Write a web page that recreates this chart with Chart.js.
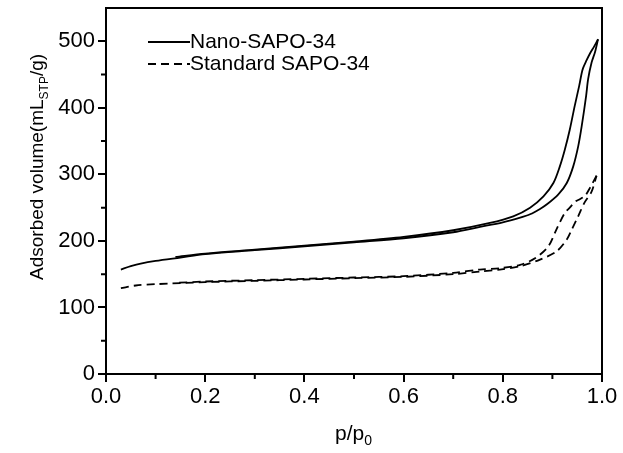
<!DOCTYPE html>
<html>
<head>
<meta charset="utf-8">
<script src="https://cdn.jsdelivr.net/npm/chart.js@4"></script>
<style>
  html, body { margin: 0; padding: 0; background: #fff; }
  #wrap { width: 623px; height: 453px; }
</style>
</head>
<body>
<div id="wrap"><canvas id="grafico"></canvas></div>
<script>
const nanoAdsX = [0.03, 0.05, 0.07, 0.1, 0.15, 0.2, 0.3, 0.4, 0.5, 0.6, 0.7, 0.754, 0.8, 0.835, 0.855, 0.875, 0.889, 0.912, 0.929, 0.942, 0.952, 0.959, 0.968, 0.972, 0.979, 0.986, 0.992];
const nanoAdsY = [157, 162, 166, 170, 175, 180, 186, 192, 198, 204, 213, 221, 228, 235, 240, 248, 255, 270, 287, 312, 342, 372, 418, 443, 468, 484, 503];
const nanoDesX = [0.992, 0.984, 0.976, 0.968, 0.962, 0.959, 0.954, 0.945, 0.935, 0.925, 0.915, 0.902, 0.882, 0.855, 0.821, 0.774, 0.7, 0.6, 0.5, 0.4, 0.3, 0.2, 0.14];
const nanoDesY = [503, 492, 482, 470, 460, 452, 433, 403, 367, 337, 312, 287, 267, 250, 237, 227, 216, 206, 199, 193, 187, 181, 176];

const stdAdsX = [0.03, 0.06, 0.1, 0.2, 0.3, 0.4, 0.5, 0.6, 0.7, 0.754, 0.794, 0.835, 0.875, 0.908, 0.929, 0.939, 0.952, 0.965, 0.979, 0.989];
const stdAdsY = [129, 133, 135, 138, 140, 142, 144, 146, 150, 154, 157, 162, 172, 184, 202, 217, 237, 258, 274, 298];
const stdDesX = [0.989, 0.976, 0.966, 0.956, 0.946, 0.935, 0.925, 0.908, 0.892, 0.865, 0.835, 0.794, 0.754, 0.7, 0.6, 0.5, 0.4, 0.3, 0.2, 0.14];
const stdDesY = [298, 280, 268, 263, 259, 250, 242, 217, 192, 174, 164, 159, 157, 152, 147, 145, 143, 141, 139, 137];

const seriesNames = ['Nano-SAPO-34', 'Standard SAPO-34'];
const xTicks = [0, 0.2, 0.4, 0.6, 0.8, 1.0];
const xMinor = [0.1, 0.3, 0.5, 0.7, 0.9];
const yTicks = [0, 100, 200, 300, 400, 500];
const yMinor = [50, 150, 250, 350, 450];

const FUENTE = "'Liberation Sans', Arial, sans-serif";

function puntos(xs, ys) {
    return xs.map((x, i) => ({ x: x, y: ys[i] }));
}

function serie(xs, ys, dash) {
    return {
        data: puntos(xs, ys),
        showLine: true,
        borderColor: '#000',
        borderWidth: 1.8,
        borderDash: dash,
        pointRadius: 0,
        tension: 0.3,
        fill: false
    };
}

// texto con subindices, segmentos dibujados uno tras otro
function textoCompuesto(ctx, partes, x, y) {
    let cx = x;
    partes.forEach(p => {
        ctx.font = p.size + 'px ' + FUENTE;
        ctx.fillText(p.t, cx, y + (p.dy || 0));
        cx += ctx.measureText(p.t).width;
    });
}

const extras = {
    id: 'extras',
    afterDraw(chart) {
        const ctx = chart.ctx;
        const a = chart.chartArea;
        const sx = chart.scales.x, sy = chart.scales.y;
        ctx.save();
        ctx.strokeStyle = '#000';
        ctx.fillStyle = '#000';
        ctx.lineWidth = 2;
        ctx.setLineDash([]);
        ctx.strokeRect(a.left, a.top, a.right - a.left, a.bottom - a.top);

        // ticks menores
        ctx.beginPath();
        xMinor.forEach(v => {
            const px = sx.getPixelForValue(v);
            ctx.moveTo(px, a.bottom);
            ctx.lineTo(px, a.bottom + 5);
        });
        yMinor.forEach(v => {
            const py = sy.getPixelForValue(v);
            ctx.moveTo(a.left, py);
            ctx.lineTo(a.left - 5, py);
        });
        ctx.stroke();

        // leyenda
        const lx0 = a.left + 42, lx1 = a.left + 84;
        const filas = [{ y: a.top + 34, dash: [] }, { y: a.top + 56, dash: [8, 5] }];
        ctx.lineWidth = 1.8;
        ctx.textBaseline = 'middle';
        ctx.textAlign = 'left';
        ctx.font = '21px ' + FUENTE;
        filas.forEach((f, i) => {
            ctx.setLineDash(f.dash);
            ctx.beginPath();
            ctx.moveTo(lx0, f.y);
            ctx.lineTo(lx1, f.y);
            ctx.stroke();
            ctx.fillText(seriesNames[i], lx1, f.y);
        });
        ctx.setLineDash([]);

        // titulo eje x
        ctx.textBaseline = 'alphabetic';
        textoCompuesto(ctx, [
            { t: 'p/p', size: 21 },
            { t: '0', size: 14, dy: 5 }
        ], 335, 440);

        // titulo eje y
        ctx.translate(43, 280);
        ctx.rotate(-Math.PI / 2);
        textoCompuesto(ctx, [
            { t: 'Adsorbed volume(mL', size: 19 },
            { t: 'STP', size: 12, dy: 5 },
            { t: '/g)', size: 19 }
        ], 0, 0);
        ctx.restore();
    }
};

const ctx = document.getElementById('grafico').getContext('2d');
const myChart = new Chart(ctx, {
    type: 'scatter',
    data: {
        datasets: [
            serie(nanoAdsX, nanoAdsY, []),
            serie(nanoDesX, nanoDesY, []),
            serie(stdAdsX, stdAdsY, [8, 5]),
            serie(stdDesX, stdDesY, [8, 5])
        ]
    },
    options: {
        responsive: true,
        maintainAspectRatio: false,
        animation: false,
        layout: { padding: { top: 8, right: 21, left: 0, bottom: 0 } },
        plugins: {
            legend: { display: false },
            tooltip: { enabled: false }
        },
        scales: {
            x: {
                type: 'linear',
                min: 0,
                max: 1,
                afterBuildTicks: s => { s.ticks = xTicks.map(v => ({ value: v })); },
                afterFit: s => { s.height = 79; s.paddingLeft = 0; s.paddingRight = 0; },
                grid: { drawOnChartArea: false, drawTicks: true, tickLength: 8, lineWidth: 2, color: '#000' },
                border: { display: true, width: 2, color: '#000' },
                ticks: {
                    color: '#000',
                    padding: 2,
                    font: { family: FUENTE, size: 22 },
                    maxRotation: 0,
                    callback: v => Number(v).toFixed(1)
                }
            },
            y: {
                type: 'linear',
                min: 0,
                max: 550,
                afterBuildTicks: s => { s.ticks = yTicks.map(v => ({ value: v })); },
                afterFit: s => { s.width = 106; s.paddingTop = 0; s.paddingBottom = 0; },
                grid: { drawOnChartArea: false, drawTicks: true, tickLength: 8, lineWidth: 2, color: '#000' },
                border: { display: true, width: 2, color: '#000' },
                ticks: {
                    color: '#000',
                    padding: 3,
                    font: { family: FUENTE, size: 22 },
                    callback: v => String(v)
                }
            }
        }
    },
    plugins: [extras]
});
</script>
</body>
</html>
